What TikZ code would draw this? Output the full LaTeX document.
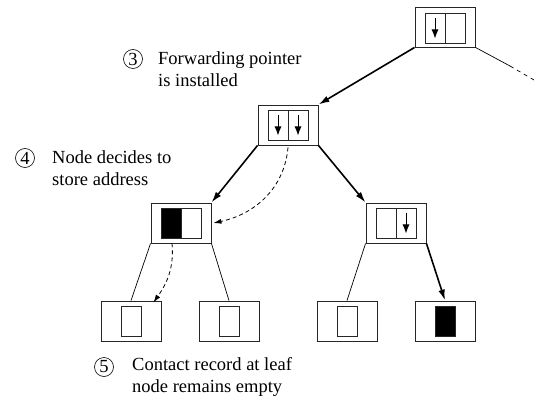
\documentclass[tikz,border=0pt]{standalone}
\usepackage{fontspec}
\setmainfont{Liberation Serif}
\usetikzlibrary{arrows.meta}
\begin{document}
\begin{tikzpicture}[x=1pt, y=-1pt, font=\fontsize{18.5}{22.5}\selectfont, >={Latex[length=11pt,width=6.5pt]}]
    \tikzstyle{box} = [draw=black!85, line width=0.9pt, minimum width=60pt, minimum height=40pt, inner sep=0pt]
    \tikzstyle{cell} = [draw=black!85, line width=0.9pt, minimum width=20pt, minimum height=30pt, inner sep=0pt]
    \tikzstyle{full_cell} = [cell, fill=black]
    \tikzstyle{ptr_arrow} = [-{Latex[length=9pt,width=7pt]}, black, line width=0.9pt]
    \tikzstyle{thin_line} = [black, line width=0.7pt]
    \tikzstyle{thick_arrow} = [->, black, line width=1.6pt]
    \tikzstyle{hint_arrow} = [-{Latex[length=8pt,width=5pt]}, black, line width=0.8pt, dash pattern=on 4pt off 3pt]
    \tikzstyle{step_num} = [circle, draw, line width=0.6pt, inner sep=0pt, minimum size=19pt]
    \tikzstyle{note} = [align=left, anchor=west, inner sep=0pt]

    \useasboundingbox (0,0) rectangle (534,406);

    % root
    \node[box] (nRoot) at (445,27) {};
    \node[cell] (nRootA) at (435,28) {};
    \node[cell] (nRootB) at (455,28) {};
    \draw[ptr_arrow] ([yshift=-5pt]nRootA.north) -- ([yshift=5pt]nRootA.south);

    % middle
    \node[box] (nMid) at (288,125) {};
    \node[cell] (nMidA) at (278,125) {};
    \node[cell] (nMidB) at (298,125) {};
    \draw[ptr_arrow] ([yshift=-5pt]nMidA.north) -- ([yshift=5pt]nMidA.south);
    \draw[ptr_arrow] ([yshift=-5pt]nMidB.north) -- ([yshift=5pt]nMidB.south);

    % inner left / right
    \node[box] (nLeft) at (181,223) {};
    \node[full_cell] (nLeftA) at (171,223) {};
    \node[cell] (nLeftB) at (191,223) {};
    \node[box] (nRight) at (396,223) {};
    \node[cell] (nRightA) at (386,223) {};
    \node[cell] (nRightB) at (406,223) {};
    \draw[ptr_arrow] ([yshift=-5pt]nRightB.north) -- ([yshift=5pt]nRightB.south);

    % leaves
    \node[box] (nLf1) at (131,321) {};
    \node[cell] (nLf1c) at (131,321) {};
    \node[box] (nLf2) at (229,321) {};
    \node[cell] (nLf2c) at (229,321) {};
    \node[box] (nLf3) at (347,321) {};
    \node[cell] (nLf3c) at (347,321) {};
    \node[box] (nLf4) at (445,321) {};
    \node[full_cell] (nLf4c) at (445,321) {};

    \coordinate (cOffA) at (510,66);
    \coordinate (cOffB) at (534,80);

    \draw[thick_arrow] (nRoot.south west) -- (nMid.north east);
    \draw[thin_line] (nRoot.south east) -- (cOffA);
    \draw[thin_line, dash pattern=on 4pt off 4pt] (cOffA) -- (cOffB);
    \draw[thick_arrow] (nMid.south west) -- (nLeft.north east);
    \draw[thick_arrow] (nMid.south east) -- (nRight.north west);
    \draw[thin_line] (nLeft.south west) -- (nLf1.north);
    \draw[thin_line] (nLeft.south east) -- (nLf2.north);
    \draw[thin_line] (nRight.south west) -- (nLf3.north);
    \draw[thick_arrow] (nRight.south east) -- (nLf4.north);

    \draw[hint_arrow] ([yshift=-2pt]nMid.south) to[out=-95, in=12] ([xshift=2pt]nLeft.east);
    \draw[hint_arrow] ([xshift=-9pt]nLeft.south) to[out=-85, in=55] ([xshift=-8pt,yshift=-2pt]nLf1.north east);

    % step notes
    \node[step_num] (nS3) at (133,59) {3};
    \node[note] (nT3) at (158,69) {Forwarding pointer\\is installed};
    \node[step_num] (nS4) at (25,158) {4};
    \node[note] (nT4) at (52,168) {Node decides to\\store address};
    \node[step_num] (nS5) at (104,367) {5};
    \node[note] (nT5) at (132,377) {Contact record at leaf\\node remains empty};
\end{tikzpicture}
\end{document}
